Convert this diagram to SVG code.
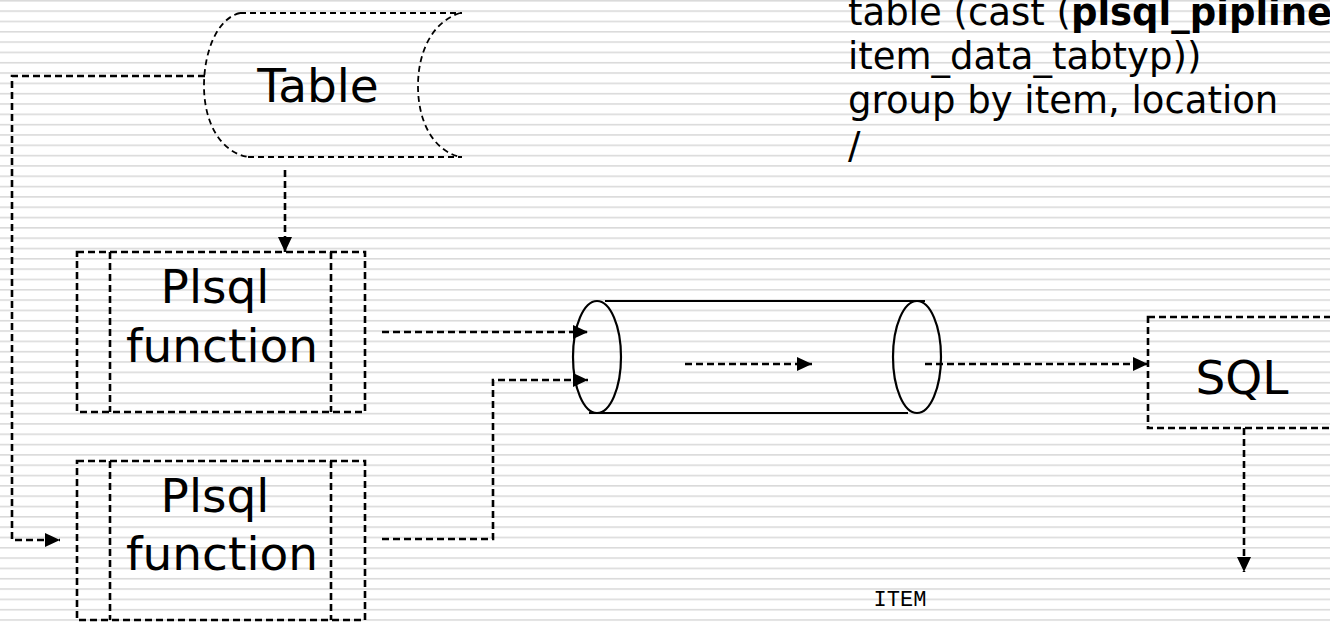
<svg xmlns="http://www.w3.org/2000/svg" width="1330" height="622" viewBox="0 0 1330 622">
  <defs>
    <pattern id="stripes" patternUnits="userSpaceOnUse" x="0" y="0" width="20" height="10.32">
      <rect x="0" y="0" width="20" height="1.6" fill="#dadada"/>
    </pattern>
    <marker id="arr" markerUnits="userSpaceOnUse" markerWidth="16" markerHeight="14" refX="15" refY="7" orient="auto">
      <path d="M0,0 L15,7 L0,14 Z" fill="#000"/>
    </marker>
    <style>
      .dash { fill: none; stroke: #000; stroke-width: 2.6; stroke-dasharray: 7 4; }
      .thin { fill: none; stroke: #000; stroke-width: 1.8; stroke-dasharray: 6 4; }
      .solid { fill: none; stroke: #000; stroke-width: 2.2; }
      .lbl { font-family: "DejaVu Sans", Verdana, sans-serif; font-size: 47px; fill: #000; }
      .code { font-family: "DejaVu Sans", Verdana, sans-serif; font-size: 37px; fill: #000; }
      .mono { font-family: "Liberation Mono", "Courier New", monospace; font-size: 22px; fill: #000; }
    </style>
  </defs>
  <rect x="0" y="0" width="1330" height="622" fill="#fff"/>
  <rect x="0" y="0" width="1330" height="622" fill="url(#stripes)"/>

  <g id="code-text">
    <text class="code" x="848" y="25">table (cast (<tspan font-weight="bold">plsql_pipline</tspan></text>
    <text class="code" x="848" y="69">item_data_tabtyp))</text>
    <text class="code" x="848" y="113">group by item, location</text>
    <text class="code" x="848" y="158">/</text>
  </g>

  <g id="table">
    <path class="thin" d="M240,13 L462,13"/>
    <path class="thin" d="M248,157 L462,157"/>
    <path class="thin" d="M240,13 C218,18 204,50 204,86 C204,122 220,152 248,157"/>
    <path class="thin" d="M460,13 C432,22 418,52 418,86 C418,120 432,150 460,157"/>
    <text class="lbl" x="318" y="102" text-anchor="middle">Table</text>
  </g>

  <g id="plsql1">
    <rect class="dash" x="77" y="252" width="288" height="160"/>
    <line class="dash" x1="110" y1="252" x2="110" y2="412"/>
    <line class="dash" x1="331" y1="252" x2="331" y2="412"/>
    <text class="lbl" x="215" y="303" text-anchor="middle" font-size="46.5">Plsql</text>
    <text class="lbl" x="222" y="362" text-anchor="middle" font-size="46.5">function</text>
  </g>

  <g id="plsql2">
    <rect class="dash" x="77" y="461" width="288" height="159"/>
    <line class="dash" x1="110" y1="461" x2="110" y2="620"/>
    <line class="dash" x1="331" y1="461" x2="331" y2="620"/>
    <text class="lbl" x="215" y="512" text-anchor="middle" font-size="46.5">Plsql</text>
    <text class="lbl" x="222" y="570" text-anchor="middle" font-size="46.5">function</text>
  </g>

  <g id="pipe">
    <ellipse class="solid" cx="597" cy="357" rx="24" ry="56"/>
    <ellipse class="solid" cx="917" cy="357" rx="24" ry="56"/>
    <line class="solid" x1="605" y1="301" x2="925" y2="301"/>
    <line class="solid" x1="589" y1="413" x2="908" y2="413"/>
  </g>

  <g id="sql">
    <rect class="dash" x="1148" y="317" width="200" height="111"/>
    <text class="lbl" x="1242" y="394" text-anchor="middle" font-size="48">SQL</text>
  </g>

  <g id="item-label">
    <text class="mono" x="900" y="606" text-anchor="middle">ITEM</text>
  </g>

  <g id="connectors">
    <path class="dash" d="M205,76 L12,76 L12,540 L60,540" marker-end="url(#arr)"/>
    <path class="dash" d="M285,170 L285,252" marker-end="url(#arr)"/>
    <path class="dash" d="M382,332 L588,332" marker-end="url(#arr)"/>
    <path class="dash" d="M382,539 L493,539 L493,380 L588,380" marker-end="url(#arr)"/>
    <path class="dash" d="M685,364 L812,364" marker-end="url(#arr)"/>
    <path class="dash" d="M925,364 L1148,364" marker-end="url(#arr)"/>
    <path class="dash" d="M1244,428 L1244,572" marker-end="url(#arr)"/>
  </g>
</svg>
